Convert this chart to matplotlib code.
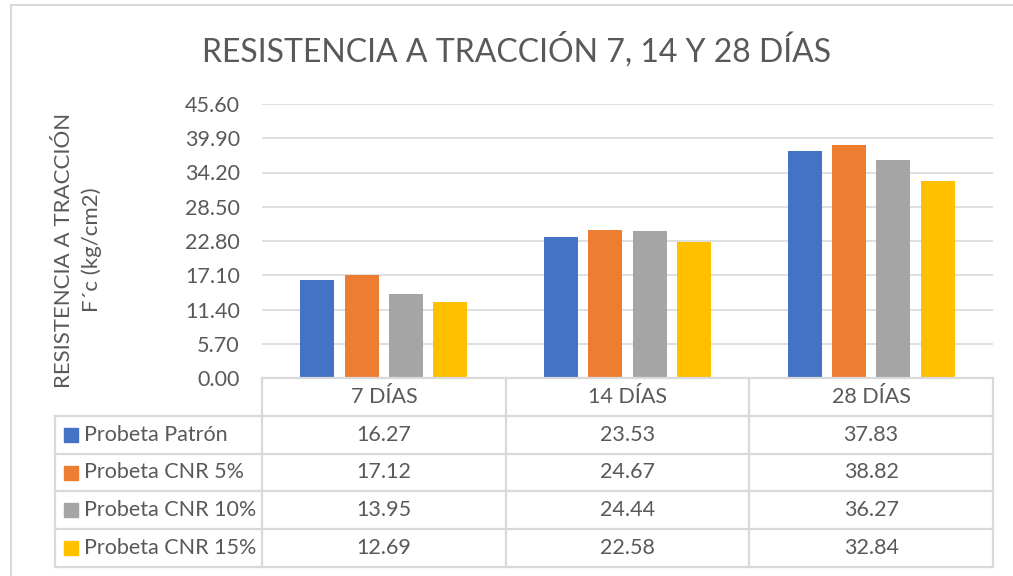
import matplotlib
matplotlib.use("Agg")
import matplotlib.pyplot as plt
from matplotlib.patches import Rectangle

categories = ["7 DÍAS", "14 DÍAS", "28 DÍAS"]
series_names = ["Probeta Patrón", "Probeta CNR 5%", "Probeta CNR 10%", "Probeta CNR 15%"]
patron = [16.27, 23.53, 37.83]
cnr5 = [17.12, 24.67, 38.82]
cnr10 = [13.95, 24.44, 36.27]
cnr15 = [12.69, 22.58, 32.84]
yticks = [0.00, 5.70, 11.40, 17.10, 22.80, 28.50, 34.20, 39.90, 45.60]
title = "RESISTENCIA A TRACCIÓN 7, 14 Y 28 DÍAS"
ylabel = "RESISTENCIA A TRACCIÓN\nF´c (kg/cm2)"

series = [patron, cnr5, cnr10, cnr15]
colors = ["#4472C4", "#ED7D31", "#A5A5A5", "#FFC000"]
text_color = "#595959"
grid_color = "#D9D9D9"
font = ["Lato", "DejaVu Sans"]
plt.rcParams["font.family"] = font

W, H = 1013, 576
fig = plt.figure(figsize=(W / 100, H / 100), dpi=100)

def fx(px):
    return px / W

def fy(py):
    return 1 - py / H

# outer chart border
fig.patches.append(Rectangle((fx(11), fy(590)), fx(1030) - fx(11), fy(5) - fy(590),
                             transform=fig.transFigure, fill=False,
                             edgecolor=grid_color, linewidth=1.5))

left, right = 262, 993
top, bottom = 104, 378
ax = fig.add_axes([fx(left), fy(bottom), fx(right) - fx(left), fy(top) - fy(bottom)])

bw = 34 / 243.67
step = 44.3 / 243.67
x = range(len(categories))
for k, (vals, c) in enumerate(zip(series, colors)):
    off = (k - 1.5) * step
    ax.bar([i + off for i in x], vals, width=bw, color=c, zorder=3)

fs = 15.5
ax.set_xlim(-0.5, 2.5)
ax.set_ylim(0, 45.6)
ax.set_yticks(yticks)
ax.set_yticklabels([f"{v:.2f}" for v in yticks], fontsize=fs, color=text_color)
ax.tick_params(axis="y", length=0, pad=16)
ax.set_xticks([])
for s in ax.spines.values():
    s.set_visible(False)
ax.grid(axis="y", color=grid_color, linewidth=1.2, zorder=0)

fig.text(fx(517), fy(50), title, ha="center", va="center", fontsize=23,
         color=text_color, fontweight="normal")
fig.text(fx(78), fy(250), ylabel, ha="center", va="center", rotation=90,
         fontsize=16, color=text_color, multialignment="center", linespacing=1.45)

# data table
tb_top, tb_bot = 378, 567
tax = fig.add_axes([fx(left), fy(tb_bot), fx(right) - fx(left), fy(tb_top) - fy(tb_bot)])
tax.set_xlim(-0.5, 2.5)
tax.set_ylim(5, 0)
tax.axis("off")
lc = 1.6
xl = -0.5 - (left - 55) / 243.67
for xv in [-0.5, 0.5, 1.5, 2.5]:
    tax.plot([xv, xv], [0, 5], color=grid_color, lw=lc, clip_on=False)
tax.plot([xl, xl], [1, 5], color=grid_color, lw=lc, clip_on=False)
tax.plot([-0.5, 2.5], [0, 0], color=grid_color, lw=lc, clip_on=False)
for r in range(1, 6):
    tax.plot([xl, 2.5], [r, r], color=grid_color, lw=lc, clip_on=False)

for i, cat in enumerate(categories):
    tax.text(i, 0.5, cat, ha="center", va="center", fontsize=fs, color=text_color)
for r, (name, vals, c) in enumerate(zip(series_names, series, colors), start=1):
    tax.plot([xl + (71 - 55) / 243.67], [r + 0.5], marker="s", ms=10, color=c,
             clip_on=False, linestyle="none")
    tax.text(xl + (84 - 55) / 243.67, r + 0.5, name, ha="left", va="center",
             fontsize=fs, color=text_color)
    for i, v in enumerate(vals):
        tax.text(i, r + 0.5, f"{v:.2f}", ha="center", va="center", fontsize=fs,
                 color=text_color)

fig.savefig("out.png", dpi=100)
